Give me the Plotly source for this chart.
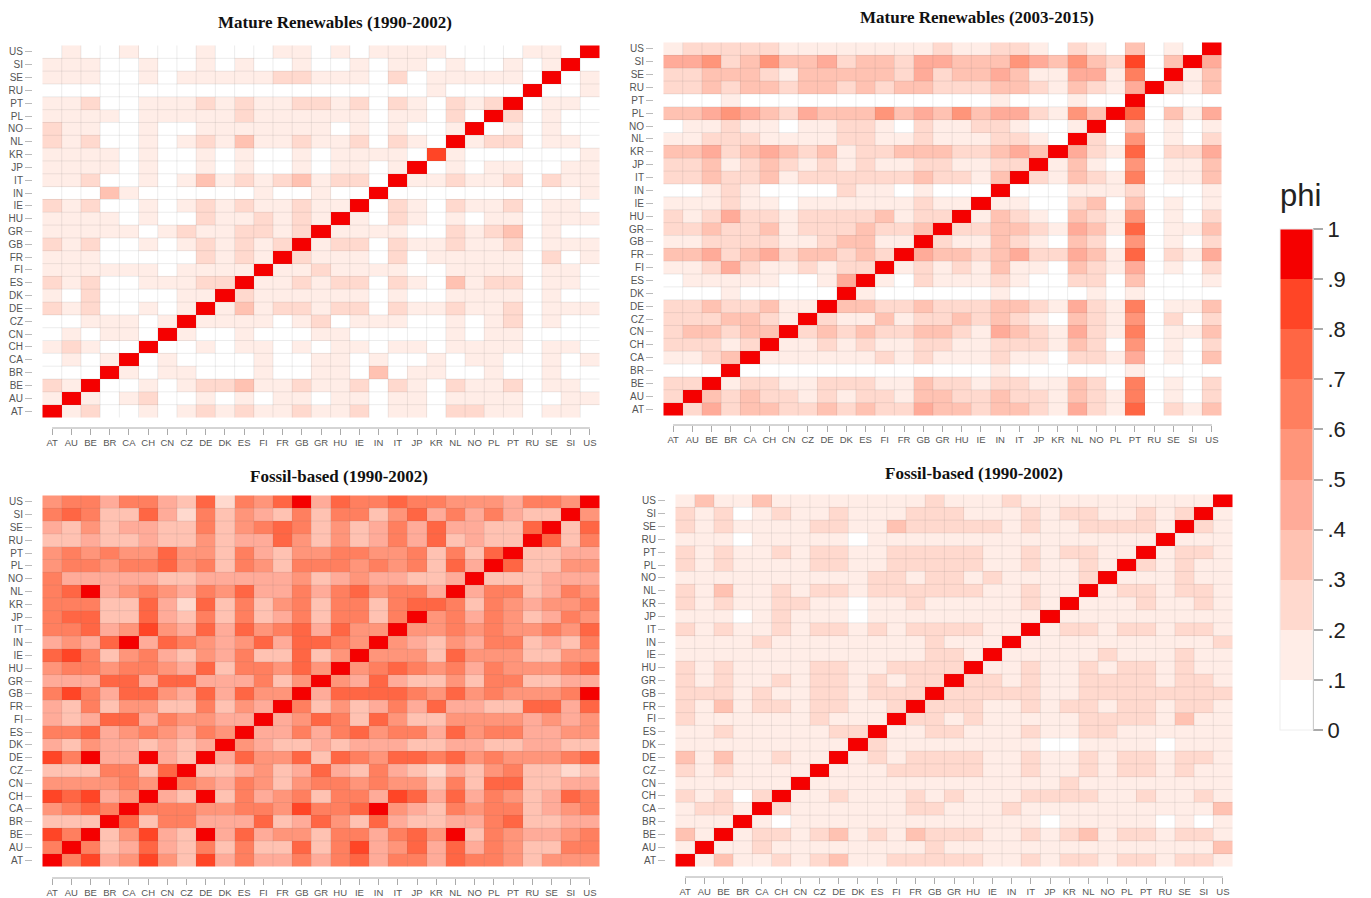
import plotly.graph_objects as go

countries = "AT AU BE BR CA CH CN CZ DE DK ES FI FR GB GR HU IE IN IT JP KR NL NO PL PT RU SE SI US".split()

# Each digit d is the phi band [d/10, (d+1)/10).
# Rows run from US (top) to AT (bottom); columns run AT ... US.
mature_1990_2002 = [
 "0100100010 0011010111 100001109",
 "1110010010 1001001011 010010190",
 "1110010111 1122111020 111110901",
 "0000000000 0000000000 100009001",
 "1120011121 2112212021 021290110",
 "1111011111 2111111011 020920100",
 "2110010011 1111101010 019010100",
 "2120010121 3112112021 091220110",
 "1111010010 1001011110 810000001",
 "1111010010 1001011019 010110011",
 "1120010131 2123122091 121120211",
 "0003100000 0100100900 000000001",
 "2120010121 2112119021 021120110",
 "1111010021 1212191021 010110111",
 "1111101211 2212911110 021230100",
 "2120010121 2129122021 121120111",
 "1110000021 2192111020 111110201",
 "1111110111 1911211110 011110110",
 "2120011122 9112122021 031220110",
 "1020000119 2111111010 011110100",
 "2120010191 3122122021 121120111",
 "0011101911 1101201110 010120100",
 "0101109100 1000110000 010110000",
 "1210090010 1101011011 011110110",
 "0101901000 0100110100 101100101",
 "0009101100 0100110301 100100100",
 "2190010122 3112112021 021120110",
 "1910120010 1011011011 011110011",
 "9120010121 2112112011 022110110",
]
mature_2003_2015 = [
 "1222221111 1111211221 021030109",
 "4452353342 3324433354 353280394",
 "2233321333 3324233431 144160913",
 "2232332332 3233222332 132149213",
 "0001000000 0000000100 010090000",
 "3345432433 3534353442 153970314",
 "0112110112 2102112210 019030101",
 "1122211112 2112111221 092050102",
 "3342343231 2233322343 942170224",
 "2231232121 2112211229 131050113",
 "2232231222 2223221392 132160113",
 "0012100002 1101000900 011120001",
 "1112110111 1112119110 023030101",
 "2124221222 2312291321 032150102",
 "2232231222 3223922332 143170113",
 "1122221123 3119211321 032050102",
 "3342342332 3294332342 243170214",
 "1124211212 2912121311 032140102",
 "0111110014 9102111210 022030001",
 "0001000009 1000000100 001010000",
 "2232231193 3223222332 142160113",
 "2223321921 1312232321 032150202",
 "2332339232 3223321432 142160113",
 "2221291121 2112211222 132050102",
 "1123911111 1212111211 022140103",
 "0009000000 0000000100 000010000",
 "2291221122 2113221221 132060102",
 "2932322121 2213322322 132160102",
 "9242332232 3224332332 142170213",
]
fossil_left = [
 "5664664372 6579476676 655546659",
 "6763374263 5436366357 464643395",
 "4353443363 5676353464 744337937",
 "3343343353 4475353464 734339736",
 "5656557553 6435566556 363793344",
 "5665667563 6536665656 374973355",
 "6444443344 4445345443 349333444",
 "6794565465 7446467566 494663465",
 "6663374273 6356366367 763654556",
 "6773374363 6346366369 564653465",
 "6674585474 7567475595 565655657",
 "4547947654 5747765954 354663436",
 "7863564354 6337359555 375553355",
 "5665665473 6657595676 564655567",
 "4447747744 4635954743 353663344",
 "6864775474 7559477776 575655569",
 "4363553363 5496353464 744337747",
 "4347746554 4945763753 355554545",
 "6674565465 9446467566 475664455",
 "4354434349 5433434443 344334433",
 "8694494394 7557376577 675655567",
 "3336637933 4534743643 243563323",
 "5555659654 6535665655 363773344",
 "8784594393 6456366487 474653476",
 "5676966655 6658667954 365663456",
 "3339736644 4734753743 344673344",
 "8693584394 7455366467 593654456",
 "6963474363 6337368457 474653366",
 "9684585384 6446467466 476653555",
]
fossil_right = [
 "1311311111 1112111211 111111119",
 "2120121121 1122211121 221121291",
 "2121111221 1322222121 122221921",
 "1110111110 1111111111 111119111",
 "2121121221 1222221121 221191221",
 "2121111221 1222221121 121921211",
 "1111111111 2212212111 129111211",
 "2131121221 2222221121 191221221",
 "2121122110 1121111121 911121121",
 "1110121110 1111111119 111111111",
 "2121121221 2122221191 221221221",
 "1111211111 1112111911 111111112",
 "1111111111 1112219111 112111211",
 "2121111221 1222291121 121221211",
 "2121121221 2122922121 122221221",
 "2221211221 2229222221 122222222",
 "2131221221 1292221121 221221221",
 "2111111211 1922121111 122221311",
 "1121111122 9112211121 122111111",
 "1111111119 2111111110 011110111",
 "3131121191 2122221121 121221221",
 "2121111911 1222221121 121221211",
 "1111119111 1111111111 211111111",
 "2120291121 1121211122 221121121",
 "1221921111 1122111211 111111113",
 "1119101111 1111111110 111110101",
 "3191221231 2132221121 231221221",
 "1911211111 1112111111 111111113",
 "9131121231 1222221121 221221221",
]

band_colors = ["#FFFFFF", "#FFEDE7", "#FFD9CE", "#FFC2B2", "#FFAB99",
               "#FF957A", "#FF7F5F", "#FF6644", "#FF4526", "#F50000"]
cbar_ticks = [0, .1, .2, .3, .4, .5, .6, .7, .8, .9, 1]
cbar_labels = ["0", ".1", ".2", ".3", ".4", ".5", ".6", ".7", ".8", ".9", "1"]

W, H = 1371, 898
panels = [
    dict(title="Mature Renewables (1990-2002)", data=mature_1990_2002, x=(42, 600), y=(45, 418),
         title_xy=(335, 23), line_y=428, tick_x=32),
    dict(title="Mature Renewables (2003-2015)", data=mature_2003_2015, x=(663, 1222), y=(42, 416),
         title_xy=(977, 18), line_y=425, tick_x=653),
    dict(title="Fossil-based (1990-2002)", data=fossil_left, x=(42, 600), y=(495, 867),
         title_xy=(339, 476), line_y=878, tick_x=32),
    dict(title="Fossil-based (1990-2002)", data=fossil_right, x=(675, 1233), y=(494, 867),
         title_xy=(974, 473), line_y=877, tick_x=665),
]


def to_matrix(rows):
    out = []
    for r in rows:
        r = r.replace(" ", "")
        assert len(r) == 29, r
        out.append([(int(c) + 0.5) / 10 for c in r])
    assert len(out) == 29
    return out[::-1]


fig = go.Figure()
annotations, shapes, axes = [], [], {}
GRID = "rgba(110,110,110,0.13)"
n = len(countries)
for i, p in enumerate(panels, start=1):
    sfx = "" if i == 1 else str(i)
    fig.add_trace(go.Heatmap(z=to_matrix(p["data"]), x=countries, y=countries,
                             coloraxis="coloraxis",
                             xaxis=f"x{sfx}", yaxis=f"y{sfx}",
                             hovertemplate="%{y} / %{x}: %{z}<extra></extra>"))
    axes[f"xaxis{sfx}"] = dict(
        domain=[p["x"][0] / W, p["x"][1] / W], anchor="free", position=1 - p["line_y"] / H,
        type="category", tickmode="array", tickvals=countries, ticktext=countries, tickangle=0,
        ticks="outside", ticklen=6, tickcolor="#AAAAAA", tickwidth=1, showgrid=False, zeroline=False,
        showline=False, tickfont=dict(family="Liberation Sans", size=9.5, color="#555555"))
    axes[f"yaxis{sfx}"] = dict(
        domain=[1 - p["y"][1] / H, 1 - p["y"][0] / H], anchor="free", position=p["tick_x"] / W,
        type="category", tickmode="array", tickvals=countries, ticktext=countries,
        ticks="outside", ticklen=7, tickcolor="#BBBBBB", tickwidth=1, showgrid=False, zeroline=False,
        showline=False, tickfont=dict(family="Liberation Sans", size=10, color="#555555"))
    shapes.append(dict(type="line", xref=f"x{sfx}", yref="paper", x0=countries[0], x1=countries[-1],
                       y0=1 - p["line_y"] / H, y1=1 - p["line_y"] / H,
                       line=dict(color="#AAAAAA", width=1)))
    for k in range(1, n):
        shapes.append(dict(type="line", xref=f"x{sfx}", yref=f"y{sfx}", x0=k - 0.5, x1=k - 0.5,
                           y0=-0.5, y1=n - 0.5, line=dict(color=GRID, width=1)))
        shapes.append(dict(type="line", xref=f"x{sfx}", yref=f"y{sfx}", y0=k - 0.5, y1=k - 0.5,
                           x0=-0.5, x1=n - 0.5, line=dict(color=GRID, width=1)))
    annotations.append(dict(text=f"<b>{p['title']}</b>", xref="paper", yref="paper",
                            x=p["title_xy"][0] / W, y=1 - p["title_xy"][1] / H,
                            xanchor="center", yanchor="middle", showarrow=False,
                            font=dict(family="Liberation Serif", size=17, color="#111111")))

scale = []
for k, c in enumerate(band_colors):
    scale += [[k / 10, c], [(k + 1) / 10, c]]

shapes.append(dict(type="line", xref="paper", yref="paper", x0=1313 / W, x1=1313 / W,
                   y0=1 - 730 / H, y1=1 - 229 / H, line=dict(color="#AAAAAA", width=2)))
annotations.append(dict(text="phi", xref="paper", yref="paper", x=1300 / W, y=1 - 195 / H,
                        xanchor="center", yanchor="middle", showarrow=False,
                        font=dict(family="Liberation Sans", size=31, color="#222222")))

fig.update_layout(
    width=W, height=H, margin=dict(l=0, r=0, t=0, b=0), paper_bgcolor="white", plot_bgcolor="white",
    annotations=annotations, shapes=shapes, showlegend=False,
    coloraxis=dict(cmin=0, cmax=1, colorscale=scale, colorbar=dict(
        x=1280 / W, xanchor="left", y=1 - 479.5 / H, yanchor="middle", lenmode="pixels", len=501,
        thicknessmode="pixels", thickness=33, xpad=0, ypad=0, outlinewidth=1, outlinecolor="#EEEEEE",
        tickmode="array", tickvals=cbar_ticks, ticktext=cbar_labels, ticks="outside",
        ticklen=10, tickcolor="#AAAAAA", tickwidth=2,
        tickfont=dict(family="Liberation Sans", size=22, color="#222222"))),
    **axes)

fig.write_html("out.html", post_script="document.body.style.margin='0';",
               config=dict(displayModeBar=False))
